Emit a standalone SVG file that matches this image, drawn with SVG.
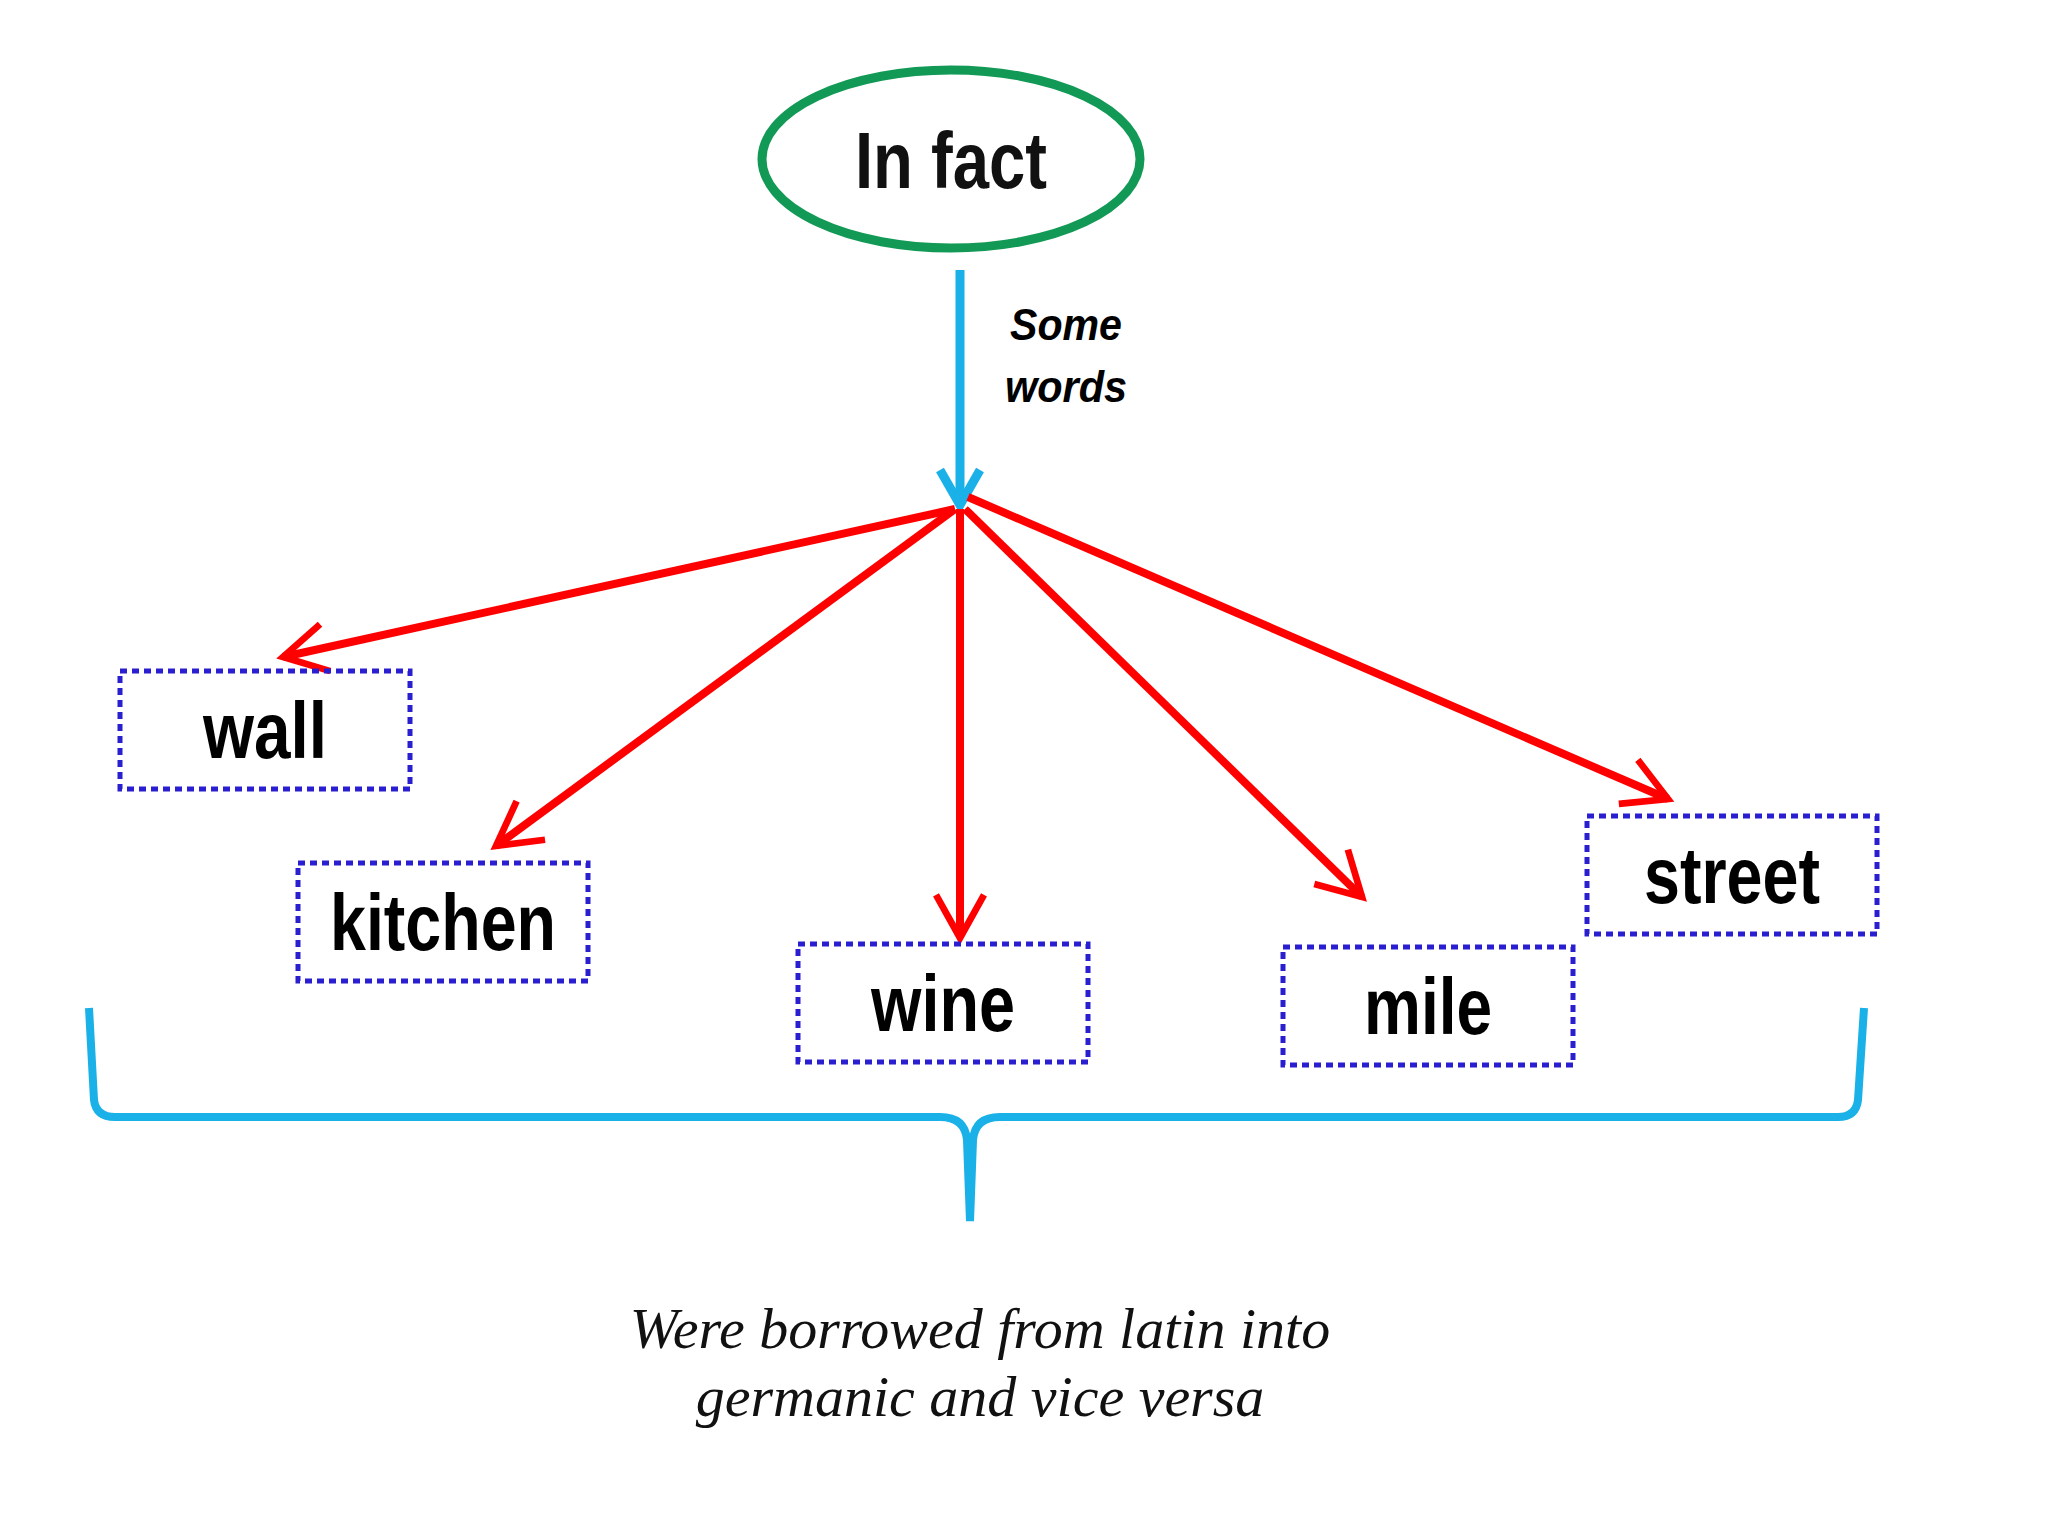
<svg xmlns="http://www.w3.org/2000/svg" width="2048" height="1536" viewBox="0 0 2048 1536">
<defs>
<style>
.box{fill:none;stroke:#2a1fd0;stroke-width:5;stroke-dasharray:7 5}
.lbl{font-family:"Liberation Sans",sans-serif;font-weight:bold;font-size:80px;fill:#000;text-anchor:middle}
.red{stroke:#ff0000;stroke-width:8;fill:none}
.script{font-family:"Liberation Serif",serif;font-style:italic;font-size:58px;fill:#111;text-anchor:middle}
</style>
<marker id="rh" viewBox="0 0 10 10" refX="9" refY="5" markerWidth="6" markerHeight="6" orient="auto" style="overflow:visible">
<path d="M0,0 L9,5 L0,10" fill="none" stroke="#ff0000" stroke-width="1.4" stroke-linejoin="miter"/>
</marker>
</defs>
<rect width="2048" height="1536" fill="#fff"/>
<g id="infact">
<ellipse cx="951" cy="159" rx="189" ry="89" fill="#fff" stroke="#119955" stroke-width="9"/>
<text x="951" y="188" class="lbl" textLength="192" lengthAdjust="spacingAndGlyphs" style="fill:#111">In fact</text>
</g>
<g id="connectors">
<line x1="960" y1="270" x2="960" y2="505" stroke="#1ab0e8" stroke-width="9"/>
<path d="M940,470 L960,505 L980,470" fill="none" stroke="#1ab0e8" stroke-width="9"/>
<line class="red" x1="955" y1="509" x2="283" y2="657" marker-end="url(#rh)"/>
<line class="red" x1="955" y1="509" x2="496" y2="846" marker-end="url(#rh)"/>
<line class="red" x1="960" y1="509" x2="960" y2="938" marker-end="url(#rh)"/>
<line class="red" x1="965" y1="509" x2="1362" y2="897" marker-end="url(#rh)"/>
<line class="red" x1="968" y1="497" x2="1668" y2="799" marker-end="url(#rh)"/>
<path d="M89,1008 L94,1100 Q96,1117 115,1117 L940,1117 Q965,1117 967,1140 L970,1221 L973,1140 Q975,1117 1000,1117 L1838,1117 Q1856,1117 1858,1100 L1864,1008" fill="none" stroke="#1ab0e8" stroke-width="8"/>
</g>
<g id="somewords">
<text x="1066" y="340" textLength="112" lengthAdjust="spacingAndGlyphs" style="font-family:'Liberation Sans',sans-serif;font-weight:bold;font-style:italic;font-size:44px;text-anchor:middle">Some</text>
<text x="1066" y="402" textLength="122" lengthAdjust="spacingAndGlyphs" style="font-family:'Liberation Sans',sans-serif;font-weight:bold;font-style:italic;font-size:44px;text-anchor:middle">words</text>
</g>
<g id="wall"><rect class="box" x="120" y="671" width="290" height="118"/><text class="lbl" x="265" y="758" textLength="124" lengthAdjust="spacingAndGlyphs">wall</text></g>
<g id="kitchen"><rect class="box" x="298" y="863" width="290" height="118"/><text class="lbl" x="443" y="950" textLength="226" lengthAdjust="spacingAndGlyphs">kitchen</text></g>
<g id="wine"><rect class="box" x="798" y="944" width="290" height="118"/><text class="lbl" x="943" y="1031" textLength="144" lengthAdjust="spacingAndGlyphs">wine</text></g>
<g id="mile"><rect class="box" x="1283" y="947" width="290" height="118"/><text class="lbl" x="1428" y="1034" textLength="128" lengthAdjust="spacingAndGlyphs">mile</text></g>
<g id="street"><rect class="box" x="1587" y="816" width="290" height="118"/><text class="lbl" x="1732" y="903" textLength="176" lengthAdjust="spacingAndGlyphs">street</text></g>
<g id="bottom">
<text class="script" x="980" y="1348">Were borrowed from latin into</text>
<text class="script" x="980" y="1416">germanic and  vice versa</text>
</g>
</svg>
